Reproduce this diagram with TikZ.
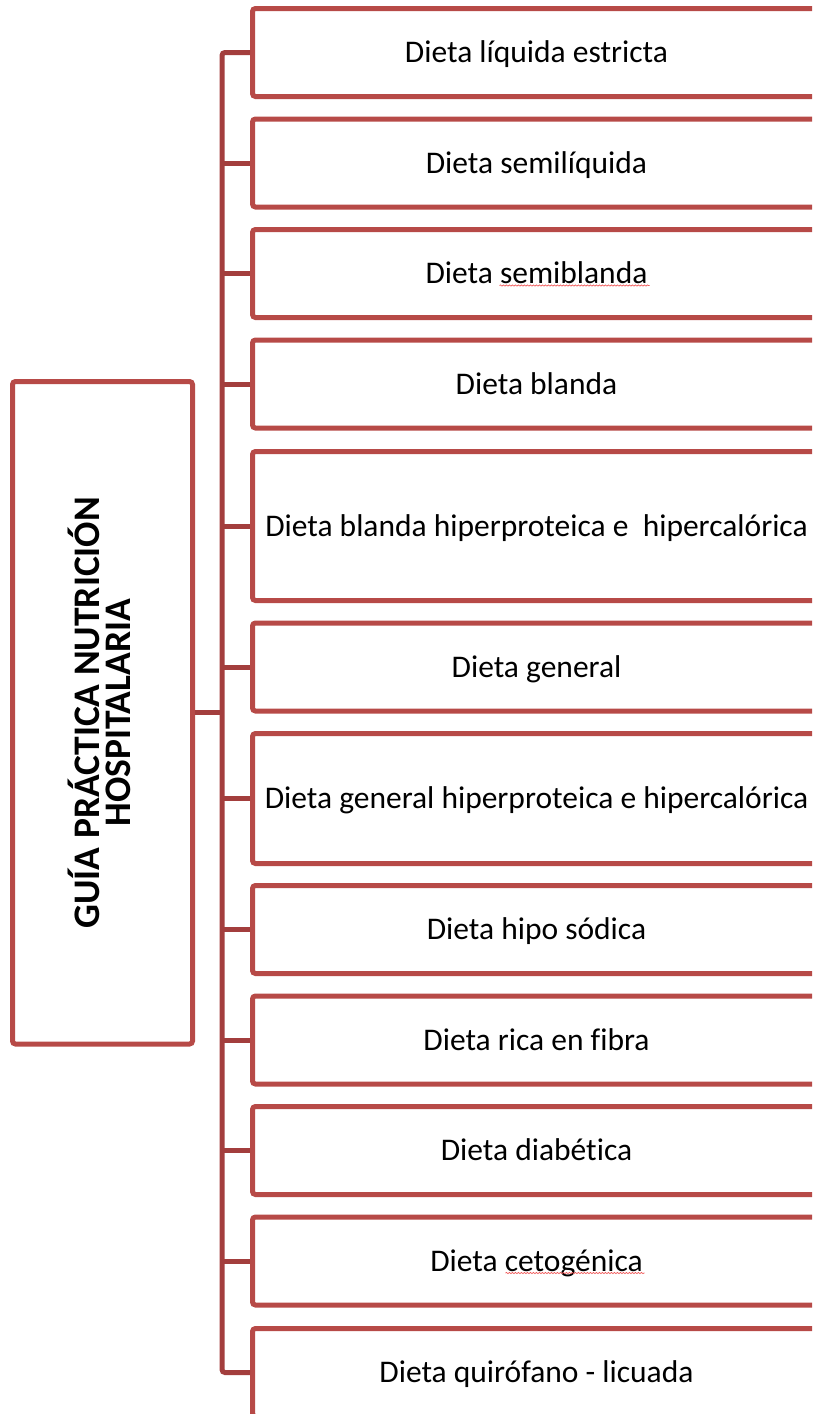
\documentclass[tikz,border=0pt]{standalone}
\usepackage{fontspec}
\setmainfont{Carlito}[Ligatures=NoCommon]
\usetikzlibrary{calc,decorations.pathmorphing}
\definecolor{boxred}{RGB}{183,74,71}
\definecolor{spinered}{RGB}{163,62,61}
\definecolor{spellred}{RGB}{240,90,90}
\begin{document}
\begin{tikzpicture}[x=1pt,y=-1pt,
  dbox/.style={draw=boxred, line width=5pt, rounded corners=3pt, minimum width=568pt,
    inner sep=0pt, text height=24pt, text depth=4pt,
    font=\fontsize{31.5}{38}\selectfont, text=black, anchor=west},
  mainbox/.style={draw=boxred, line width=5pt, rounded corners=3pt, minimum width=180pt,
    minimum height=662.5pt, inner sep=0pt},
  spine/.style={draw=spinered, line width=5pt},
  spell/.style={draw=spellred, line width=0.7pt, decorate,
    decoration={snake, amplitude=0.6pt, segment length=3pt}}]
\useasboundingbox (0,0) rectangle (812,1414);
\begin{scope}
\clip (0,0) rectangle (812,1414);
\node[mainbox] (main) at (102.5,712.75) {};
\node[rotate=90, align=center, inner sep=0pt, font=\fontsize{37.5}{31}\bfseries\selectfont] (title) at (99,712.75)
  {GUÍA PRÁCTICA NUTRICIÓN\\HOSPITALARIA};
\node[dbox, minimum height=88pt]  (b1)  at (250,52.5)   {Dieta líquida estricta};
\node[dbox, minimum height=88pt]  (b2)  at (250,163)    {Dieta semilíquida};
\node[dbox, minimum height=88pt]  (b3)  at (250,273.5)  {Dieta semiblanda};
\node[dbox, minimum height=88pt]  (b4)  at (250,384)    {Dieta blanda};
\node[dbox, minimum height=149pt] (b5)  at (250,526)    {Dieta blanda hiperproteica e\ \ hipercalórica};
\node[dbox, minimum height=88pt]  (b6)  at (250,667)    {Dieta general};
\node[dbox, minimum height=130pt] (b7)  at (250,798.5)  {Dieta general hiperproteica e hipercalórica};
\node[dbox, minimum height=88pt]  (b8)  at (250,929.5)  {Dieta hipo sódica};
\node[dbox, minimum height=88pt]  (b9)  at (250,1040)   {Dieta rica en fibra};
\node[dbox, minimum height=88pt]  (b10) at (250,1150.5) {Dieta diabética};
\node[dbox, minimum height=88pt]  (b11) at (250,1261)   {Dieta cetogénica};
\node[dbox, minimum height=88pt]  (b12) at (250,1372.5) {Dieta quirófano - licuada};
\coordinate (sx) at (222,0);
\draw[spine, rounded corners=3pt] (b1.west) -- (b1.west -| sx) -- (b12.west -| sx) -- (b12.west);
\foreach \i in {2,...,11} {\draw[spine] (b\i.west) -- (b\i.west -| sx);}
\draw[spine] (main.east) -- (main.east -| sx);
\draw[spell] ($(b3.center)+(-37,12)$) -- ($(b3.center)+(113,12)$);
\draw[spell] ($(b11.center)+(-31,12)$) -- ($(b11.center)+(108,12)$);
\end{scope}
\end{tikzpicture}
\end{document}
